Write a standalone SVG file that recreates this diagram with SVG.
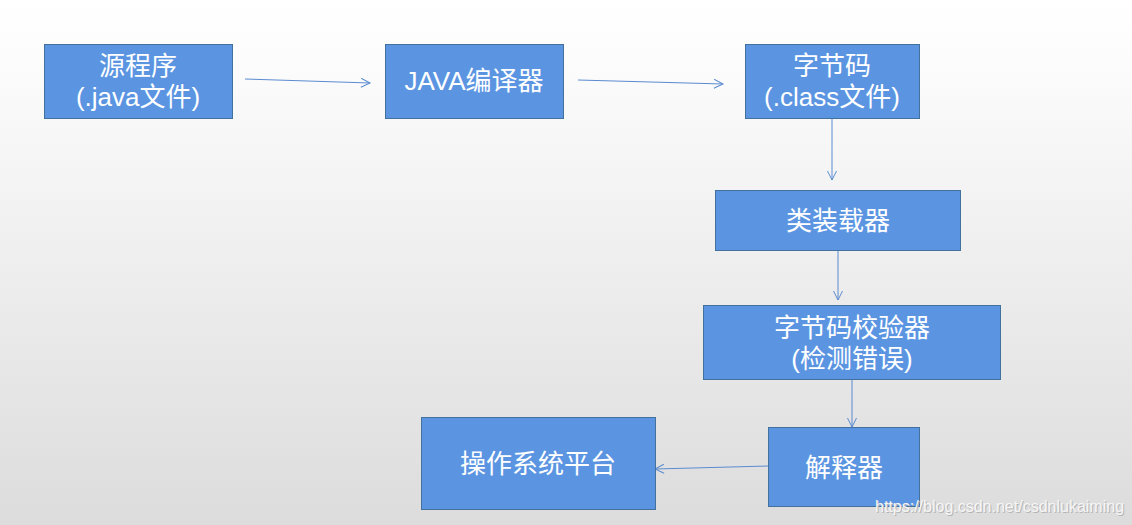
<svg xmlns="http://www.w3.org/2000/svg" width="1132" height="525" viewBox="0 0 1132 525">
<defs>
<linearGradient id="bg" x1="0" y1="0" x2="0" y2="1">
<stop offset="0" stop-color="#ffffff"/>
<stop offset="0.15" stop-color="#fbfbfb"/>
<stop offset="1" stop-color="#dcdcdc"/>
</linearGradient>
<marker id="arr" markerWidth="12" markerHeight="12" refX="10" refY="5" orient="auto" markerUnits="userSpaceOnUse">
<polyline points="1,0.5 10,5 1,9.5" fill="none" stroke="#5b8bd0" stroke-width="1"/>
</marker>
<style>
.box{fill:#5b95e2;stroke:#41719c;stroke-width:1}
.t{fill:#ffffff;font-family:"Liberation Sans","Noto Sans CJK SC",sans-serif;font-size:26px;text-anchor:middle}
.c{fill:none;stroke:#5b8bd0;stroke-width:1;marker-end:url(#arr)}
.wm{font-family:"Liberation Sans",sans-serif;font-size:16px}
</style>
</defs>
<rect width="1132" height="525" fill="url(#bg)"/>
<g id="connectors">
<line class="c" x1="245" y1="79" x2="370" y2="83"/>
<line class="c" x1="578" y1="80" x2="723" y2="84"/>
<line class="c" x1="832" y1="119" x2="832" y2="180"/>
<line class="c" x1="838" y1="251" x2="838" y2="300"/>
<line class="c" x1="852" y1="380" x2="852" y2="427"/>
<line class="c" x1="768" y1="466" x2="655" y2="469"/>
</g>
<g id="n1"><rect class="box" x="44.5" y="44.5" width="188" height="74"/>
<text class="t" x="138" y="75">源程序</text><text class="t" x="138" y="106">(.java文件)</text></g>
<g id="n2"><rect class="box" x="385.5" y="44.5" width="178" height="74"/>
<text class="t" x="474" y="90">JAVA编译器</text></g>
<g id="n3"><rect class="box" x="745.5" y="44.5" width="174" height="74"/>
<text class="t" x="832" y="75">字节码</text><text class="t" x="832" y="106">(.class文件)</text></g>
<g id="n4"><rect class="box" x="715.5" y="190.5" width="245" height="60"/>
<text class="t" x="838" y="230">类装载器</text></g>
<g id="n5"><rect class="box" x="703.5" y="305.5" width="297" height="74"/>
<text class="t" x="852" y="337">字节码校验器</text><text class="t" x="852" y="368">(检测错误)</text></g>
<g id="n6"><rect class="box" x="768.5" y="427.5" width="151" height="79"/>
<text class="t" x="844" y="477">解释器</text></g>
<g id="n7"><rect class="box" x="421.5" y="417.5" width="234" height="92"/>
<text class="t" x="538" y="473">操作系统平台</text></g>
<text class="wm" x="876" y="513" fill="#b4b4b4">https://blog.csdn.net/csdnlukaiming</text>
<text class="wm" x="875" y="512" fill="#f6f6f6">https://blog.csdn.net/csdnlukaiming</text>
</svg>
